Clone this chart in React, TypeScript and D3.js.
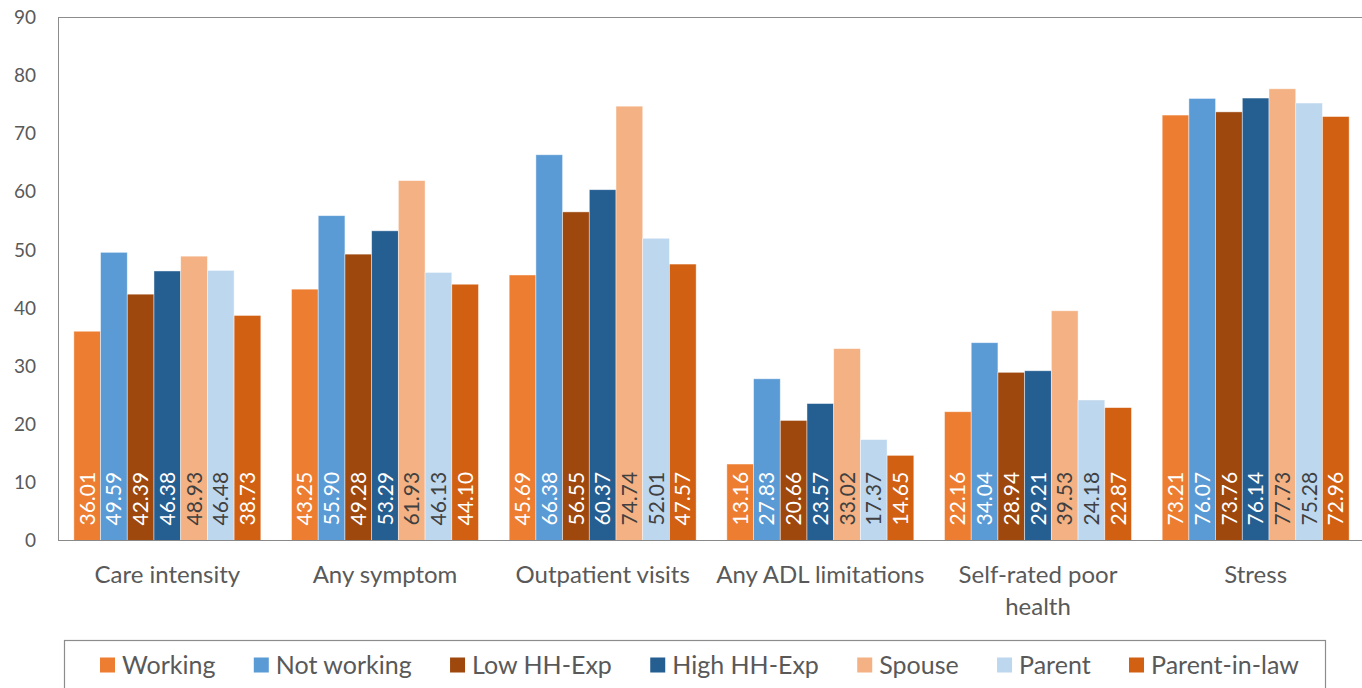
import React, { useEffect, useRef } from "react";
import * as d3 from "d3";

const categories = [
  "Care intensity",
  "Any symptom",
  "Outpatient visits",
  "Any ADL limitations",
  "Self-rated poor health",
  "Stress",
];
const seriesNames = ["Working", "Not working", "Low HH-Exp", "High HH-Exp", "Spouse", "Parent", "Parent-in-law"];
const working = [36.01, 43.25, 45.69, 13.16, 22.16, 73.21];
const notWorking = [49.59, 55.9, 66.38, 27.83, 34.04, 76.07];
const lowHHExp = [42.39, 49.28, 56.55, 20.66, 28.94, 73.76];
const highHHExp = [46.38, 53.29, 60.37, 23.57, 29.21, 76.14];
const spouse = [48.93, 61.93, 74.74, 33.02, 39.53, 77.73];
const parent = [46.48, 46.13, 52.01, 17.37, 24.18, 75.28];
const parentInLaw = [38.73, 44.1, 47.57, 14.65, 22.87, 72.96];
const yTicks = [0, 10, 20, 30, 40, 50, 60, 70, 80, 90];

const seriesValues = [working, notWorking, lowHHExp, highHHExp, spouse, parent, parentInLaw];
const colors = ["#ED7D31", "#5B9BD5", "#9E480E", "#255E91", "#F4B183", "#BDD7EE", "#D26012"];
const labelColors = ["#fff", "#fff", "#fff", "#fff", "#404040", "#404040", "#fff"];

const W = 1362;
const H = 688;
const FONT = "Lato, 'Open Sans', sans-serif";

export default function App() {
  const ref = useRef<SVGSVGElement>(null);
  useEffect(() => {
    const svg = d3.select(ref.current);
    svg.selectAll("*").remove();
    const left = 58.5, right = 1364.5, top = 17.5, bottom = 540.5;

    const y = d3.scaleLinear().domain([0, 90]).range([bottom, top]);
    const x0 = d3.scaleBand<string>().domain(categories).range([left, right]).paddingInner(0).paddingOuter(0);
    const gapFrac = 30.7 / 217.7;
    const x1 = d3
      .scaleBand<string>()
      .domain(seriesNames)
      .range([x0.bandwidth() * gapFrac / 2, x0.bandwidth() * (1 - gapFrac / 2)])
      .padding(0);

    // plot border
    svg.append("rect").attr("x", left).attr("y", top).attr("width", right - left).attr("height", bottom - top)
      .attr("fill", "none").attr("stroke", "#8c8c8c").attr("stroke-width", 1);

    // y tick labels
    svg.append("g").selectAll("text").data(yTicks).join("text")
      .attr("x", 36).attr("y", (d) => y(d)).attr("dy", "0.35em")
      .attr("text-anchor", "end").attr("font-family", FONT).attr("font-size", 19).attr("fill", "#595959")
      .text((d) => d);

    // bars
    const groups = svg.append("g").selectAll("g").data(categories).join("g")
      .attr("transform", (c) => `translate(${x0(c)},0)`);
    groups.each(function (c, ci) {
      const g = d3.select(this);
      seriesNames.forEach((s, si) => {
        const v = seriesValues[si][ci];
        const bx = x1(s)!;
        g.append("rect").attr("x", bx).attr("y", y(v)).attr("width", x1.bandwidth())
          .attr("height", y(0) - y(v)).attr("fill", colors[si])
          .attr("stroke", "#ffffff").attr("stroke-opacity", 0.55).attr("stroke-width", 0.8);
        const cx = bx + x1.bandwidth() / 2;
        const ty = y(0) - 15;
        g.append("text").attr("transform", `translate(${cx},${ty}) rotate(-90)`)
          .attr("dy", "0.36em").attr("text-anchor", "start")
          .attr("font-family", FONT).attr("font-size", 21).attr("fill", labelColors[si])
          .text(v.toFixed(2));
      });
    });

    // bottom axis line
    svg.append("line").attr("x1", left).attr("x2", right).attr("y1", bottom).attr("y2", bottom)
      .attr("stroke", "#898989").attr("stroke-width", 1.2);

    // category labels
    const catLines: Record<string, string[]> = { "Self-rated poor health": ["Self-rated poor", "health"] };
    categories.forEach((c) => {
      const lines = catLines[c] || [c];
      const t = svg.append("text").attr("text-anchor", "middle").attr("font-family", FONT)
        .attr("font-size", 24).attr("fill", "#595959");
      lines.forEach((ln, i) => {
        t.append("tspan").attr("x", x0(c)! + x0.bandwidth() / 2).attr("y", 583 + i * 32).text(ln);
      });
    });

    // legend
    const lgLeft = 64.5, lgRight = 1325.5, lgTop = 640.5;
    svg.append("rect").attr("x", lgLeft).attr("y", lgTop).attr("width", lgRight - lgLeft).attr("height", 60)
      .attr("fill", "none").attr("stroke", "#8c8c8c").attr("stroke-width", 1.2);
    const lg = svg.append("g");
    const sq = 15, tgap = 7;
    const cy = 665;
    const itemsStart = 100, itemsEnd = 1299;
    const texts = seriesNames.map((s) =>
      lg.append("text").attr("y", cy).attr("dy", "0.35em")
        .attr("font-family", FONT).attr("font-size", 25).attr("fill", "#595959").text(s)
    );
    const widths = texts.map((t) => (t.node() as SVGTextElement).getComputedTextLength());
    const used = d3.sum(widths) + seriesNames.length * (sq + tgap);
    const igap = (itemsEnd - itemsStart - used) / (seriesNames.length - 1);
    let cx = itemsStart;
    seriesNames.forEach((s, i) => {
      lg.append("rect").attr("x", cx).attr("y", cy - sq / 2).attr("width", sq).attr("height", sq).attr("fill", colors[i]);
      texts[i].attr("x", cx + sq + tgap);
      cx += sq + tgap + widths[i] + igap;
    });
  }, []);

  return (
    <svg ref={ref} width={W} height={H}
      style={{ position: "absolute", left: 0, top: 0, display: "block", background: "#fff" }} />
  );
}
